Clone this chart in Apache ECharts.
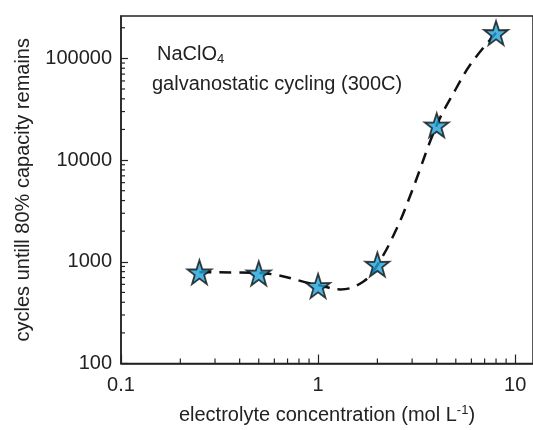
<!DOCTYPE html>
<html>
<head>
<meta charset="utf-8">
<script src="https://cdn.jsdelivr.net/npm/echarts@6/dist/echarts.min.js"></script>
<style>
  html, body { margin: 0; padding: 0; background: #fff; }
  #chart { width: 533px; height: 430px; }
</style>
</head>
<body>
<div id="chart"></div>
<script>
// measured points (stars)
var concentration = [0.25, 0.5, 1, 2, 4, 8];
var cycles = [790, 770, 580, 940, 22000, 178000];
// dashed guide curve
var fitX = [0.25, 0.5, 1, 1.3, 1.7, 2, 2.5, 3, 4, 5, 6, 8];
var fitY = [790, 775, 590, 535, 640, 930, 2100, 5000, 22000, 50000, 90000, 178000];
// minor tick values (log axes)
var xMinor = [0.2, 0.3, 0.4, 0.5, 0.6, 0.7, 0.8, 0.9, 2, 3, 4, 5, 6, 7, 8, 9];
var yMinor = [200, 300, 400, 500, 600, 700, 800, 900, 2000, 3000, 4000, 5000, 6000, 7000, 8000, 9000,
  20000, 30000, 40000, 50000, 60000, 70000, 80000, 90000, 200000];
var xMin = 0.1, yMin = 100;

var star = 'path://M50,0 L61.8,35.1 L97.6,34.5 L68.8,56 L79.4,90.5 L50,69.5 L20.6,90.5 L31.2,56 L2.4,34.5 L38.2,35.1 Z';
var font = 'Liberation Sans, Arial, sans-serif';
var txt = '#222';

function minorTicks(dir, len) {
  return function (params, api) {
    var p = api.coord([api.value(0), api.value(1)]);
    var shape = dir === 'x'
      ? { x1: p[0], y1: p[1], x2: p[0], y2: p[1] - len }
      : { x1: p[0], y1: p[1], x2: p[0] + len, y2: p[1] };
    return { type: 'line', shape: shape, style: { stroke: '#222', lineWidth: 1.2 } };
  };
}

var chart = echarts.init(document.getElementById('chart'));
chart.setOption({
  animation: false,
  grid: {
    left: 121, top: 16, right: -4, bottom: 61,
    show: true, borderColor: '#222', borderWidth: 1.5
  },
  xAxis: {
    type: 'log', logBase: 10, min: xMin, max: 12.32,
    name: 'electrolyte concentration (mol L{sup|-1})',
    nameLocation: 'middle', nameGap: 40,
    nameTextStyle: { fontFamily: font, fontSize: 20, color: txt,
      rich: { sup: { fontFamily: font, fontSize: 13, color: txt, verticalAlign: 'top', padding: [0, 0, 10, 0] } } },
    axisLine: { lineStyle: { color: '#222', width: 1.5 } },
    axisTick: { inside: true, length: 9, lineStyle: { color: '#222', width: 1.2 } },
    axisLabel: { fontFamily: font, fontSize: 20, color: txt, margin: 12, showMaxLabel: false,
      formatter: function (v) { return String(v); } },
    splitLine: { show: false }
  },
  yAxis: {
    type: 'log', logBase: 10, min: yMin, max: 261000,
    name: 'cycles untill 80% capacity remains',
    nameLocation: 'middle', nameGap: 88,
    nameTextStyle: { fontFamily: font, fontSize: 20, color: txt },
    axisLine: { lineStyle: { color: '#222', width: 1.5 } },
    axisTick: { inside: true, length: 7, lineStyle: { color: '#222', width: 1.2 } },
    axisLabel: { fontFamily: font, fontSize: 20, color: txt, margin: 9, showMaxLabel: false,
      formatter: function (v) { return String(v); } },
    splitLine: { show: false }
  },
  graphic: [
    { type: 'text', left: 157, top: 44,
      style: { text: 'NaClO{sub|4}', font: '20px ' + font, fill: txt,
        rich: { sub: { font: '13px ' + font, fill: txt, verticalAlign: 'bottom', padding: [10, 0, 0, 0] } } } },
    { type: 'text', left: 152, top: 74,
      style: { text: 'galvanostatic cycling (300C)', font: '20px ' + font, fill: txt } }
  ],
  series: [
    {
      type: 'custom',
      renderItem: minorTicks('x', 5),
      data: xMinor.map(function (v) { return [v, yMin]; }),
      silent: true, clip: false, z: 1
    },
    {
      type: 'custom',
      renderItem: minorTicks('y', 4),
      data: yMinor.map(function (v) { return [xMin, v]; }),
      silent: true, clip: false, z: 1
    },
    {
      type: 'line',
      data: fitX.map(function (x, i) { return [x, fitY[i]]; }),
      smooth: 0.4,
      showSymbol: false,
      lineStyle: { color: '#111', width: 2.5, type: [12, 8] },
      z: 2
    },
    {
      type: 'scatter',
      data: concentration.map(function (x, i) { return [x, cycles[i]]; }),
      symbol: star,
      symbolSize: 24,
      itemStyle: { color: '#1ea0d8', borderColor: '#111', borderWidth: 1.8 },
      z: 3
    }
  ]
});
</script>
</body>
</html>
